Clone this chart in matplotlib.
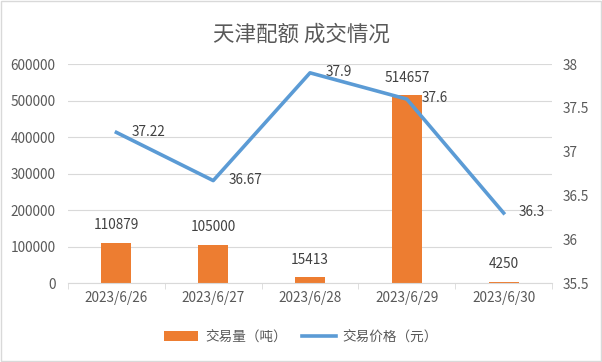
import numpy as np
import matplotlib.pyplot as plt
from matplotlib.patches import Rectangle

plt.rcParams['font.family'] = ['Noto Sans CJK SC', 'DejaVu Sans']

# data
dates = ["2023/6/26", "2023/6/27", "2023/6/28", "2023/6/29", "2023/6/30"]
volume = [110879, 105000, 15413, 514657, 4250]
price = [37.22, 36.67, 37.9, 37.6, 36.3]

orange = "#ED7D31"
blue = "#5B9BD5"
txt = "#595959"
grid_c = "#D9D9D9"
fs = 9.8

fig = plt.figure(figsize=(6.02, 3.62), dpi=100)
fig.patches.append(Rectangle((0.002, 0.003), 0.996, 0.994, transform=fig.transFigure,
                             fill=False, edgecolor="#D9D9D9", linewidth=1))
ax = fig.add_axes([0.113, 0.218, 0.804, 0.605])
ax2 = ax.twinx()

x = np.arange(len(dates))
bars = ax.bar(x, volume, width=0.31, color=orange, zorder=2)
ax.set_ylim(0, 600000)
ax.set_yticks(np.arange(0, 600001, 100000))
ax.set_xlim(-0.5, len(dates) - 0.5)
ax.set_xticks(x)
ax.set_xticklabels(dates)
ax.set_xticks(np.arange(-0.5, len(dates), 1), minor=True)
ax.grid(axis="y", color=grid_c, linewidth=0.8, zorder=0)
ax.tick_params(axis="both", which="major", length=0, colors=txt, labelsize=fs)
ax.tick_params(axis="x", which="minor", length=4, color=grid_c)
ax.tick_params(axis="x", pad=6)
ax.tick_params(axis="y", pad=9)
for s in ["top", "left", "right"]:
    ax.spines[s].set_visible(False)
ax.spines["bottom"].set_color(grid_c)

# bar value labels
for xi, v in zip(x, volume):
    ax.annotate(str(v), (xi, v), xytext=(0, 12.5), textcoords="offset points",
                ha="center", va="center", fontsize=fs, color="#404040")

line, = ax2.plot(x, price, color=blue, linewidth=2.6, zorder=3)
ax2.set_ylim(35.5, 38)
ax2.set_yticks([35.5, 36, 36.5, 37, 37.5, 38])
ax2.set_yticklabels(["35.5", "36", "36.5", "37", "37.5", "38"])
ax2.tick_params(axis="y", length=0, colors=txt, labelsize=fs, pad=8)
for s in ["top", "left", "right", "bottom"]:
    ax2.spines[s].set_visible(False)

# price labels to the right of points
for xi, p in zip(x, price):
    ax2.annotate(str(p), (xi, p), xytext=(11, 0.5), textcoords="offset points",
                 ha="left", va="center", fontsize=fs, color="#404040")

fig.text(0.5, 0.905, "天津配额 成交情况", ha="center", va="center", fontsize=15.5,
         color=txt, fontweight="light")

fig.legend([bars, line], ["交易量（吨）", "交易价格（元）"], loc="center",
           bbox_to_anchor=(0.5, 0.07), ncol=2, frameon=False, fontsize=fs,
           labelcolor=txt, handlelength=2.5, handleheight=0.7, columnspacing=1.1,
           handletextpad=0.5)

fig.savefig("out.png", dpi=100)
